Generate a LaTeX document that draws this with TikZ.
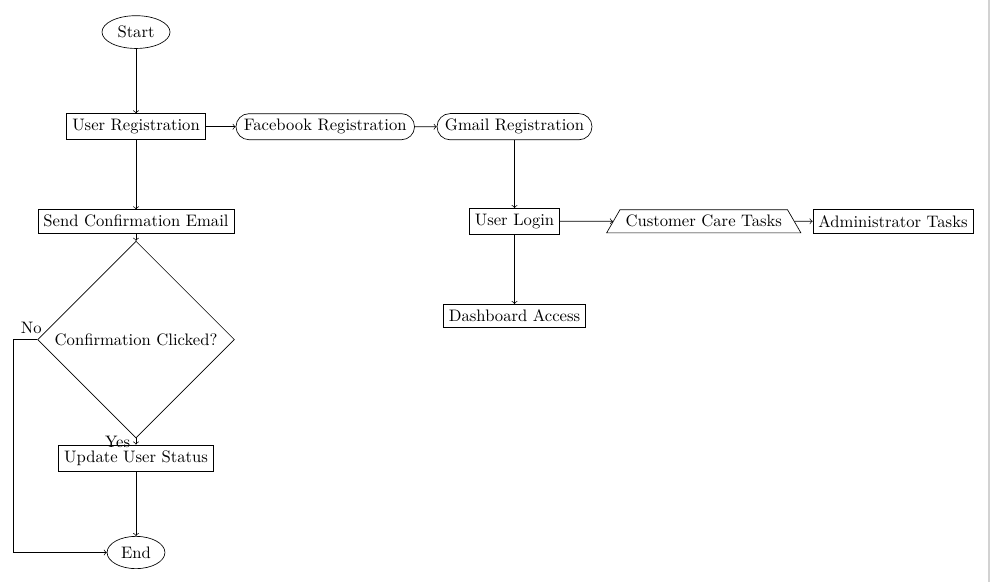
\documentclass[tikz,border=0pt]{standalone}
\usepackage{amsmath}
\usetikzlibrary{positioning,shapes.geometric,shapes.misc}

\begin{document}
\begin{tikzpicture}[ovalnode/.style={ellipse,draw},
		boxnode/.style={rectangle,draw},
		roundbox/.style={rounded rectangle,draw},
		slantnode/.style={trapezium,draw},
		choicenode/.style={diamond,draw,aspect=1},
		node distance=2cm and 4cm,on grid]
		\useasboundingbox (-2.875,0.678) rectangle (18.05,-11.632);
		\fill[gray!35] (18.0,0.678) rectangle (18.05,-11.632);

		\node[ovalnode]										(0)		{Start};
		\node[boxnode,below=of 0]							(1)		{User Registration};
		\node[roundbox,right=of 1]							(2)		{Facebook Registration};
		\node[roundbox,right=of 2]							(3)		{Gmail Registration};
		\node[boxnode,below=of 1]							(4)		{Send Confirmation Email};
		\node[boxnode,below=of 3]							(5)		{User Login};
		\node[slantnode,right=of 5]							(6)		{Customer Care Tasks};
		\node[boxnode,right=of 6]							(7)		{Administrator Tasks};
		\node[boxnode,below=of 5]							(8)		{Dashboard Access};
		\node[choicenode,node distance=2.5cm,below=of 4]	(9)		{Confirmation Clicked?};
		\node[boxnode,node distance=2.5cm,below=of 9]		(10)	{Update User Status};
		\node[ovalnode,below=of 10]							(11)	{End};

		\draw[->] (0) -- (1);
		\draw[->] (1) -- (2);
		\draw[->] (2) -- (3);
		\draw[->] (1) -- (4);
		\draw[->] (3) -- (5);
		\draw[->] (5) -- (6);
		\draw[->] (6) -- (7);
		\draw[->] (5) -- (8);
		\draw[->] (4) -- (9);
		\draw[->] (9) -- node[left] {Yes} (10);
		\draw[->] (9.west) -- node[near start,above] {No} ++(-0.5,0) |- (11.west);
		\draw[->] (10) -- (11);
	\end{tikzpicture}
\end{document}
